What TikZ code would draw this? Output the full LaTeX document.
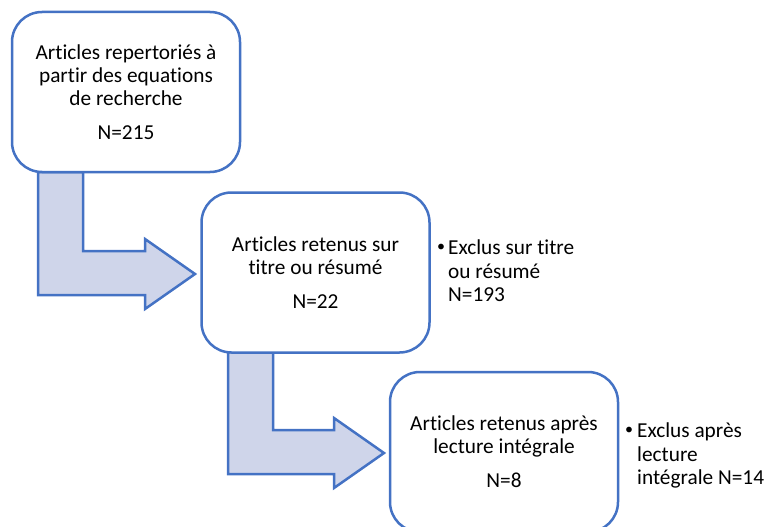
\documentclass[tikz,border=0pt]{standalone}
\usepackage{fontspec}
\setmainfont{Carlito}[Ligatures=NoCommon]
\definecolor{bord}{HTML}{4472C4}
\definecolor{arrfill}{HTML}{CFD5EA}
\begin{document}
\begin{tikzpicture}[x=1pt,y=-1pt,
  box/.style={draw=bord, line width=2.5pt, rounded corners=30pt, fill=white,
    minimum width=228pt, minimum height=160pt, align=center, inner sep=0pt,
    font=\fontsize{21.3}{23}\selectfont},
  bentarrow/.style={draw=bord, line width=2.5pt, fill=arrfill, line join=miter},
  note/.style={align=left, inner sep=0pt, anchor=north west,
    font=\fontsize{21.3}{23.5}\selectfont},
  bul/.style={inner sep=0pt, font=\fontsize{16}{20}\selectfont}]
\useasboundingbox (0,0) rectangle (766,527);
\clip (0,0) rectangle (766,527);
% bent arrows (drawn first, boxes cover their top ends)
\coordinate (a1) at (38,172);
\coordinate (a2) at (228,352);
\draw[bentarrow] (a1) -- (38,295) -- (145,295) -- (145,309) -- (195,274)
  -- (145,239) -- (145,251) -- (83,251) -- (83,172) -- cycle;
\draw[bentarrow] (a2) -- (228,474) -- (334,474) -- (334,488) -- (384,453)
  -- (334,418) -- (334,430) -- (273,430) -- (273,352) -- cycle;
% boxes
\node[box] (b1) at (126,92) {Articles repertoriés à\\partir des equations\\de recherche\\[11pt]N=215};
\node[box] (b2) at (315.5,272.5) {Articles retenus sur\\titre ou résumé\\[11pt]N=22};
\node[box] (b3) at (504,452) {Articles retenus après\\lecture intégrale\\[11pt]N=8};
% exclusion notes
\node[bul] (d2) at (441,248) {\textbullet};
\node[note] (n2) at (448,240) {Exclus sur titre\\ou résumé\\N=193};
\node[bul] (d3) at (629,431) {\textbullet};
\node[note] (n3) at (637,423) {Exclus après\\lecture\\intégrale N=14};
\end{tikzpicture}
\end{document}
